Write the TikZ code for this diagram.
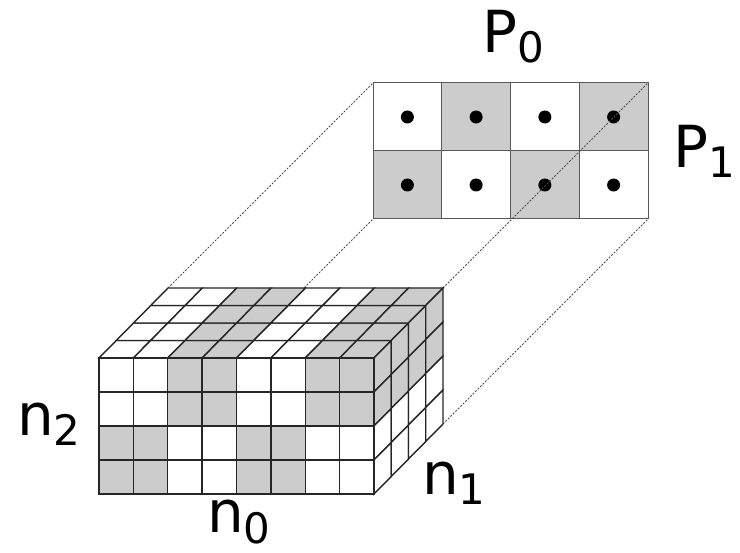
\documentclass[tikz,border=0pt]{standalone}
\usepackage{fontspec}
\setmainfont{DejaVu Sans}
\usetikzlibrary{calc}

\newcommand{\lowidx}[1]{\raisebox{-10pt}{\fontsize{42}{42}\selectfont #1}}

\begin{document}
\begin{tikzpicture}[
        x=1pt, y=-1pt,
        font=\fontsize{58}{58}\selectfont,
        cell/.style={draw=black!85, line width=1.4pt},
        pcell/.style={draw=black!65, line width=1pt},
        shade/.style={fill=gray!40},
        blank/.style={fill=white},
        proj/.style={draw=black!70, line width=0.8pt, dash pattern=on 2pt off 1.5pt},
        dot/.style={circle, fill=black, inner sep=0pt, minimum size=13pt},
        lbl/.style={anchor=base west, inner sep=0pt}
    ]
    \useasboundingbox (0,0) rectangle (740,553);

    % Corners of the back face of the array and of the process grid
    \coordinate (bTL) at (168,288);
    \coordinate (bTR) at (443,288);
    \coordinate (bBL) at (168,424);
    \coordinate (bBR) at (443,424);
    \coordinate (gTL) at (373,83);
    \coordinate (gTR) at (648,83);
    \coordinate (gBL) at (373,219);
    \coordinate (gBR) at (648,219);

    % Process grid P0 x P1
    \foreach \c in {0,...,3}{
        \foreach \r in {0,1}{
            \pgfmathtruncatemacro{\g}{mod(\c+\r,2)}
            \ifnum\g=1 \def\st{shade}\else \def\st{blank}\fi
            \path[pcell, \st] ({373+\c*68.75},{83+\r*68}) rectangle ++(68.75,68);
            \node[dot] (p\c\r) at ({373+(\c+0.5)*68.75},{83+(\r+0.5)*68}) {};
        }
    }

    % Projection lines
    \draw[proj] (bTL) -- (gTL);
    \draw[proj] (bTR) -- (gTR);
    \draw[proj] (bBL) -- (gBL);
    \draw[proj] (bBR) -- (gBR);

    % Top face of the array
    \foreach \i in {0,...,7}{
        \foreach \k in {0,...,3}{
            \pgfmathtruncatemacro{\g}{mod(floor(\i/2),2)}
            \ifnum\g=1 \def\st{shade}\else \def\st{blank}\fi
            \path[cell, \st] ({99+\i*34.375+\k*17.25},{358-\k*17.5})
                -- ++(34.375,0) -- ++(17.25,-17.5) -- ++(-34.375,0) -- cycle;
        }
    }

    % Right face of the array
    \foreach \k in {0,...,3}{
        \foreach \j in {0,...,3}{
            \ifnum\j<2 \def\st{shade}\else \def\st{blank}\fi
            \path[cell, \st] ({374+\k*17.25},{358+\j*34-\k*17.5})
                -- ++(17.25,-17.5) -- ++(0,34) -- ++(-17.25,17.5) -- cycle;
        }
    }

    % Front face of the array
    \foreach \i in {0,...,7}{
        \foreach \j in {0,...,3}{
            \pgfmathtruncatemacro{\g}{mod(floor(\i/2)+floor(\j/2),2)}
            \ifnum\g=1 \def\st{shade}\else \def\st{blank}\fi
            \path[cell, \st] ({99+\i*34.375},{358+\j*34}) rectangle ++(34.375,34);
        }
    }

    % Labels
    \node[lbl] (P0) at (482,53)  {P\lowidx{0}};
    \node[lbl] (P1) at (673,168) {P\lowidx{1}};
    \node[lbl] (n2) at (17,436)  {n\lowidx{2}};
    \node[lbl] (n0) at (207,533) {n\lowidx{0}};
    \node[lbl] (n1) at (422,495) {n\lowidx{1}};

\end{tikzpicture}
\end{document}
